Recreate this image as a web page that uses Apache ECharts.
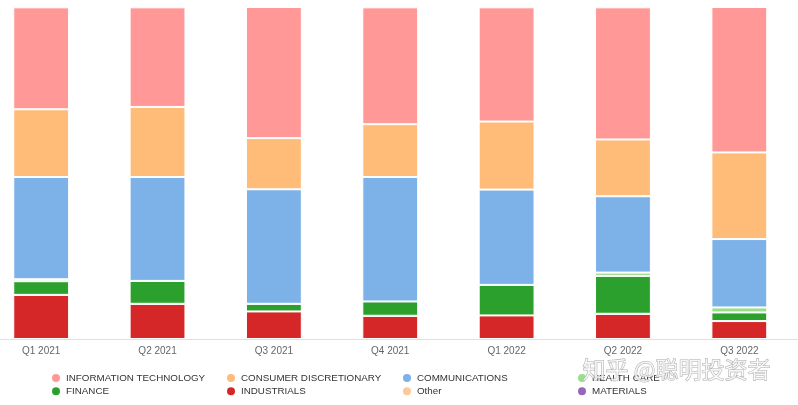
<!DOCTYPE html>
<html>
<head>
<meta charset="utf-8">
<script src="https://cdn.jsdelivr.net/npm/echarts@6/dist/echarts.min.js"></script>
<style>
html,body{margin:0;padding:0;background:#fff;overflow:hidden;width:798px;height:405px;}
#chart{width:815px;height:405px;position:absolute;left:-17px;top:0;}
</style>
</head>
<body>
<div id="chart"></div>
<script>
// Categories
var categories = ['Q1 2021','Q2 2021','Q3 2021','Q4 2021','Q1 2022','Q2 2022','Q3 2022'];
// Series values (percent share per quarter)
var infoTech      = [30.7, 30.0, 39.5, 35.2, 34.4, 39.8, 43.8];
var consumerDisc  = [20.4, 21.1, 15.4, 15.9, 20.5, 17.1, 26.1];
var communications= [30.8, 31.3, 34.5, 37.5, 28.7, 23.0, 20.6];
var healthCare    = [0.6, 0, 0, 0, 0, 1.0, 1.5];
var finance       = [4.1, 6.9, 2.3, 4.3, 9.2, 11.4, 2.6];
var industrials   = [13.3, 10.6, 8.3, 7.0, 7.1, 7.6, 5.4];
var other         = [0, 0, 0, 0, 0, 0, 0];
var materials     = [0, 0, 0, 0, 0, 0, 0];

var names = {
  it: 'INFORMATION TECHNOLOGY', cd: 'CONSUMER DISCRETIONARY', comm: 'COMMUNICATIONS',
  hc: 'HEALTH CARE', fin: 'FINANCE', ind: 'INDUSTRIALS', oth: 'Other', mat: 'MATERIALS'
};
var colors = {
  it: '#ff9896', cd: '#ffbb78', comm: '#7db2e9', hc: '#98df8a',
  fin: '#2ca02c', ind: '#d62728', oth: '#fdc998', mat: '#9467bd'
};

function bar(key, data) {
  return {
    name: names[key], type: 'bar', stack: 'total', data: data,
    barWidth: '48%',
    itemStyle: { color: colors[key], borderColor: '#fff', borderWidth: 1 },
    emphasis: { disabled: true }
  };
}

// the chart canvas is shifted 17px to the left (cropped reference)
var OFF = 17;
function legendCol(left, items) {
  return {
    orient: 'vertical', left: left + OFF, top: 372, padding: 0,
    itemWidth: 10, itemHeight: 10, itemGap: 1.3, icon: 'circle',
    textStyle: { fontFamily: 'Liberation Sans', fontSize: 9.8, color: '#333', lineHeight: 10 },
    data: items
  };
}

var chart = echarts.init(document.getElementById('chart'), null, { renderer: 'canvas' });
chart.setOption({
  animation: false,
  backgroundColor: '#fff',
  grid: { left: 0, right: 0.5, top: 7, bottom: 66, containLabel: false },
  legend: [
    legendCol(50, [names.it, names.fin]),
    legendCol(225, [names.cd, names.ind]),
    legendCol(401, [names.comm, names.oth]),
    legendCol(576, [names.hc, names.mat])
  ],
  xAxis: {
    type: 'category', data: categories,
    axisLine: { lineStyle: { color: '#e0e0e0', width: 1 } },
    axisTick: { show: false },
    axisLabel: { color: '#666', fontFamily: 'Liberation Sans', fontSize: 10, margin: 7 }
  },
  yAxis: {
    type: 'value', min: 0, max: 100, show: false,
    splitLine: { show: false }
  },
  graphic: [{
    type: 'text', left: 582 + OFF, top: 357, z: 100,
    style: {
      text: '知乎 @聪明投资者',
      font: '23px "Noto Sans CJK SC"',
      fill: 'rgba(255,255,255,0.75)', stroke: '#b0b0b0', lineWidth: 1
    }
  }],
  series: [
    bar('ind', industrials),
    bar('mat', materials),
    bar('oth', other),
    bar('fin', finance),
    bar('hc', healthCare),
    bar('comm', communications),
    bar('cd', consumerDisc),
    bar('it', infoTech)
  ]
});
</script>
</body>
</html>
